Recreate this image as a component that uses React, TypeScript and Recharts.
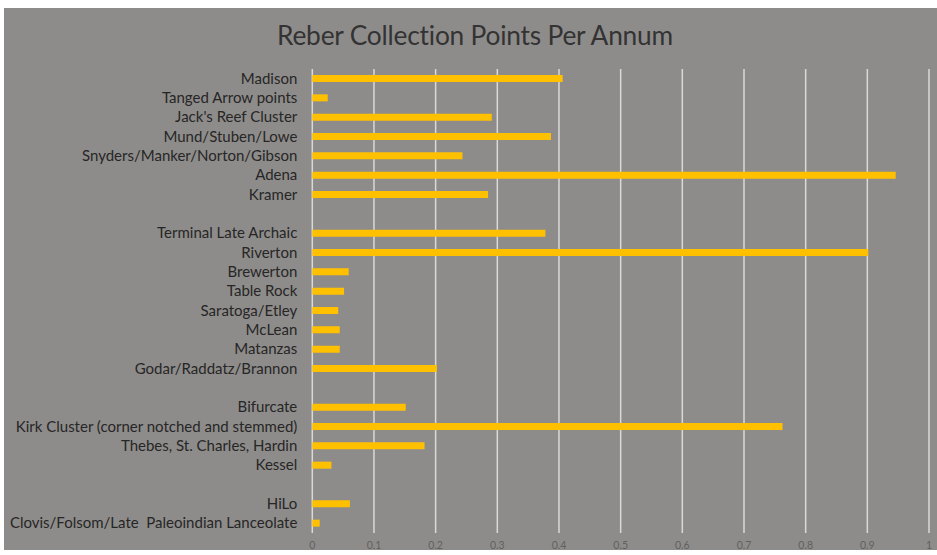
import React from "react";
import { BarChart, Bar, XAxis, YAxis, CartesianGrid } from "recharts";

const categories = [
  "Madison",
  "Tanged Arrow points",
  "Jack's Reef Cluster",
  "Mund/Stuben/Lowe",
  "Snyders/Manker/Norton/Gibson",
  "Adena",
  "Kramer",
  " ",
  "Terminal Late Archaic",
  "Riverton",
  "Brewerton",
  "Table Rock",
  "Saratoga/Etley",
  "McLean",
  "Matanzas",
  "Godar/Raddatz/Brannon",
  "  ",
  "Bifurcate",
  "Kirk Cluster (corner notched and stemmed)",
  "Thebes, St. Charles, Hardin",
  "Kessel",
  "   ",
  "HiLo",
  "Clovis/Folsom/Late  Paleoindian Lanceolate",
];

const pointsPerAnnum = [
  0.406, 0.025, 0.291, 0.387, 0.2435, 0.946, 0.285, null,
  0.378, 0.9015, 0.059, 0.0515, 0.042, 0.0445, 0.0445, 0.202, null,
  0.1515, 0.7625, 0.182, 0.031, null,
  0.061, 0.012,
];

const xTicks = [0, 0.1, 0.2, 0.3, 0.4, 0.5, 0.6, 0.7, 0.8, 0.9, 1];

const data = categories.map((name, i) => ({ name, value: pointsPerAnnum[i] }));

const FONT = "Lato, 'Open Sans', sans-serif";

const YTick = (props: any) => {
  const { x, y, payload } = props;
  return (
    <text
      x={x}
      y={y}
      dy={5}
      textAnchor="end"
      fill="#262626"
      fontSize={15}
      fontFamily={FONT}
      style={{ whiteSpace: "pre" }}
    >
      {payload.value}
    </text>
  );
};

export default function App() {
  return (
    <div
      style={{
        position: "fixed",
        top: 8,
        left: 4,
        width: 933,
        height: 542,
        background: "#8E8C8A",
      }}
    >
      <div
        style={{
          position: "absolute",
          top: 11,
          left: 0,
          width: 942,
          textAlign: "center",
          fontFamily: FONT,
          fontSize: 26.3,
          color: "#333333",
          letterSpacing: -0.2,
        }}
      >
        Reber Collection Points Per Annum
      </div>
      <BarChart
        width={933}
        height={542}
        data={data}
        layout="vertical"
        margin={{ top: 61, right: 8, bottom: 3, left: 0 }}
        barCategoryGap={0}
      >
        <CartesianGrid
          horizontal={false}
          vertical={true}
          stroke="#D9D9D9"
          strokeWidth={1.5}
        />
        <XAxis
          type="number"
          domain={[0, 1]}
          ticks={xTicks}
          interval={0}
          axisLine={false}
          tickLine={false}
          tickSize={0}
          tickMargin={9}
          height={14}
          tick={{ fill: "#606060", fontSize: 10.5, fontFamily: FONT }}
        />
        <YAxis
          type="category"
          dataKey="name"
          width={308.3}
          axisLine={false}
          tickLine={false}
          tickSize={0}
          tickMargin={15}
          interval={0}
          tick={<YTick />}
        />
        <Bar dataKey="value" fill="#FFC000" barSize={7} isAnimationActive={false} />
      </BarChart>
    </div>
  );
}
